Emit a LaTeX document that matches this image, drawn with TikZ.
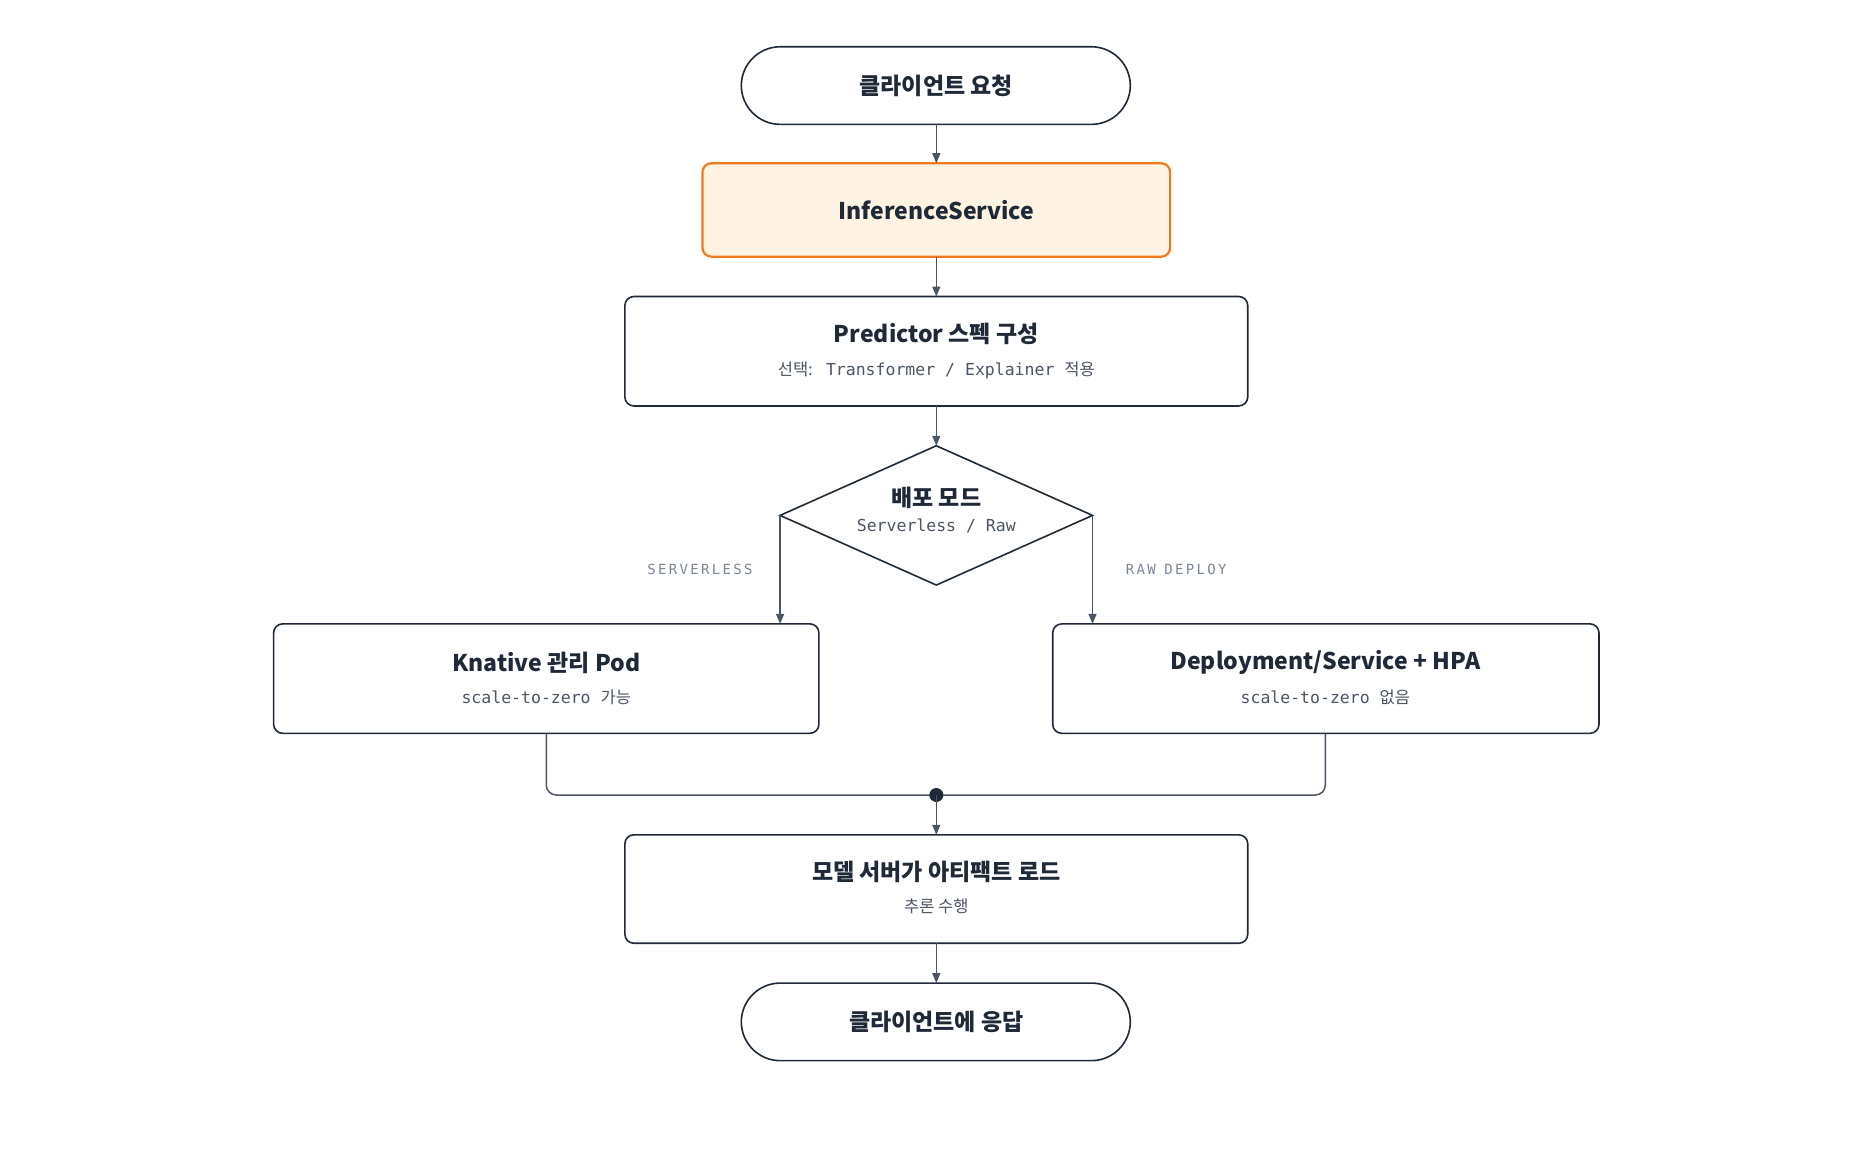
\documentclass[tikz,border=0pt]{standalone}
\usepackage{fontspec}
\setmainfont{Noto Sans CJK KR}
\newfontfamily\monof{DejaVu Sans Mono}
\newfontfamily\kr{Noto Sans CJK KR}
\usetikzlibrary{shapes.geometric,arrows.meta}
\definecolor{ink}{HTML}{1F2937}
\definecolor{edge}{HTML}{4B5563}
\definecolor{sub}{HTML}{4B5563}
\definecolor{lab}{HTML}{7B8694}
\definecolor{org}{HTML}{F27A1A}
\definecolor{orgf}{HTML}{FFF4E3}
\newcommand{\sm}[1]{{\monof #1}}
\begin{document}
\begin{tikzpicture}[x=0.995pt,y=-0.995pt,
 box/.style={draw=ink,line width=1.6pt,rounded corners=9pt,fill=white},
 pill/.style={draw=ink,line width=1.6pt,rounded corners=39pt,fill=white},
 ttl/.style={font=\fontsize{23}{27}\selectfont\bfseries,text=ink},
 st/.style={font=\fontsize{16.5}{19}\selectfont,text=sub},
 arr/.style={draw=edge,line width=1.5pt,-{Triangle[length=10pt,width=8pt]}},
 ln/.style={draw=edge,line width=1.5pt},
 lb/.style={font=\monof\fontsize{14}{16}\selectfont,text=lab}]
\useasboundingbox (0,0) rectangle (1881.4,1175.9);
\draw[pill] (745,47) rectangle (1136,125);
\node[ttl] (a) at (941,86) {클라이언트 요청};
\coordinate (aB) at (941,125);
\draw[draw=org,fill=orgf,line width=2.2pt,rounded corners=9pt] (706,164) rectangle (1176,258);
\node[ttl] (b) at (941,211) {InferenceService};
\coordinate (bT) at (941,164); \coordinate (bB) at (941,258);
\draw[box] (628,298) rectangle (1254,408);
\node[ttl] (c) at (941,336) {Predictor 스펙 구성};
\node[st] (c2) at (941,372) {선택:\sm{ Transformer / Explainer }적용};
\coordinate (cT) at (941,298); \coordinate (cB) at (941,408);
\draw[ink,line width=1.6pt,fill=white] (941,448) -- (1098,518) -- (941,588) -- (784,518) -- cycle;
\node[ttl] (d) at (941,500) {배포 모드};
\node[st] (d2) at (941,529) {\sm{Serverless / Raw}};
\coordinate (dT) at (941,448); \coordinate (dL) at (784,518); \coordinate (dR) at (1098,518);
\draw[box] (275,627) rectangle (823,737);
\node[ttl] (e) at (549,666) {Knative 관리 Pod};
\node[st] (e2) at (549,701) {\sm{scale-to-zero }가능};
\draw[box] (1058,627) rectangle (1607,737);
\node[ttl] (f) at (1332,666) {Deployment/Service + HPA};
\node[st] (f2) at (1332,701) {\sm{scale-to-zero }없음};
\coordinate (eT) at (784,627); \coordinate (fT) at (1098,627);
\coordinate (eB) at (549,737); \coordinate (fB) at (1332,737);
\node[lb,anchor=east] (l1) at (760,572) {S\,E\,R\,V\,E\,R\,L\,E\,S\,S};
\node[lb,anchor=west] (l2) at (1128,572) {R\,A\,W\ D\,E\,P\,L\,O\,Y};
\draw[box] (628,839) rectangle (1254,948);
\node[ttl] (g) at (941,876) {모델 서버가 아티팩트 로드};
\node[st] (g2) at (941,911) {추론 수행};
\coordinate (gT) at (941,839); \coordinate (gB) at (941,948);
\draw[pill] (745,988) rectangle (1136,1066);
\node[ttl] (h) at (941,1027) {클라이언트에 응답};
\coordinate (hT) at (941,988);
\coordinate (m) at (941,799);
\draw[arr] (aB) -- (bT);
\draw[arr] (bB) -- (cT);
\draw[arr] (cB) -- (dT);
\draw[arr] (dL) -- (eT);
\draw[arr] (dR) -- (fT);
\draw[ln,rounded corners=10pt] (eB) |- (m);
\draw[ln,rounded corners=10pt] (fB) |- (m);
\fill[ink] (m) circle (7pt);
\draw[arr] (m) -- (gT);
\draw[arr] (gB) -- (hT);
\end{tikzpicture}
\end{document}
